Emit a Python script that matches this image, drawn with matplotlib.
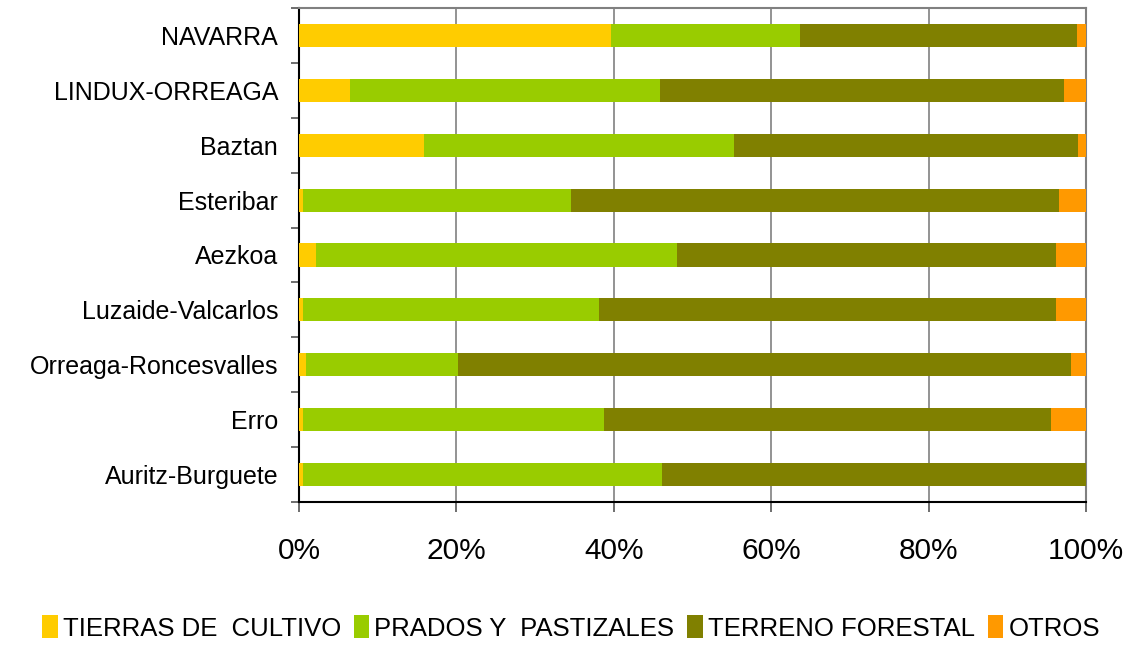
import numpy as np
import matplotlib.pyplot as plt
from matplotlib.ticker import FuncFormatter

plt.rcParams['font.family'] = ['Liberation Sans', 'DejaVu Sans']

zonas = ['NAVARRA', 'LINDUX-ORREAGA', 'Baztan', 'Esteribar', 'Aezkoa',
         'Luzaide-Valcarlos', 'Orreaga-Roncesvalles', 'Erro', 'Auritz-Burguete']
cultivo = [39.7, 6.5, 15.9, 0.5, 2.2, 0.5, 0.9, 0.5, 0.5]
prados = [24.0, 39.4, 39.4, 34.1, 45.8, 37.6, 19.3, 38.3, 45.6]
forestal = [35.1, 51.3, 43.7, 62.0, 48.2, 58.1, 77.9, 56.8, 53.9]
otros = [1.2, 2.8, 1.0, 3.4, 3.8, 3.8, 1.9, 4.4, 0.0]

series = ['TIERRAS DE  CULTIVO', 'PRADOS Y  PASTIZALES', 'TERRENO FORESTAL', 'OTROS']
colores = ['#ffcc00', '#99cc00', '#808000', '#ff9900']

fig = plt.figure(figsize=(11.42, 6.46), dpi=100)
ax = fig.add_axes([299/1142, 1 - 502/646, 787/1142, 494/646])

data = np.array([cultivo, prados, forestal, otros])
totals = data.sum(axis=0)
pct = data / totals * 100

y = np.arange(len(zonas))[::-1]
left = np.zeros(len(zonas))
for i in range(4):
    ax.barh(y, pct[i], left=left, height=0.42, color=colores[i], label=series[i], zorder=3)
    left += pct[i]

ax.set_xlim(0, 100)
ax.set_ylim(-0.5, len(zonas) - 0.5)
ax.set_xticks([0, 20, 40, 60, 80, 100])
ax.xaxis.set_major_formatter(FuncFormatter(lambda v, p: f'{v:.0f}%'))
ax.set_yticks(y)
ax.set_yticklabels(zonas)
ax.set_yticks(np.arange(-0.5, len(zonas), 1), minor=True)
ax.tick_params(axis='y', which='major', length=0, labelsize=18, pad=15)
ax.tick_params(axis='y', which='minor', length=6, width=1.2, color='#555555')
ax.tick_params(axis='x', length=7, width=1.2, color='#555555', labelsize=21.5, pad=18)
ax.grid(axis='x', color='#808080', linewidth=1.2, zorder=0)

for s in ['top', 'right']:
    ax.spines[s].set_color('#808080')
    ax.spines[s].set_linewidth(1.5)
for s in ['left', 'bottom']:
    ax.spines[s].set_color('black')
    ax.spines[s].set_linewidth(1.5)

fig.legend(loc='center', bbox_to_anchor=(0.5, 1 - 628/646), ncol=4, frameon=False,
           fontsize=18.5, handlelength=0.6, handleheight=1.0, handletextpad=0.2,
           columnspacing=0.5, borderaxespad=0)

plt.savefig('out.png', dpi=100)
